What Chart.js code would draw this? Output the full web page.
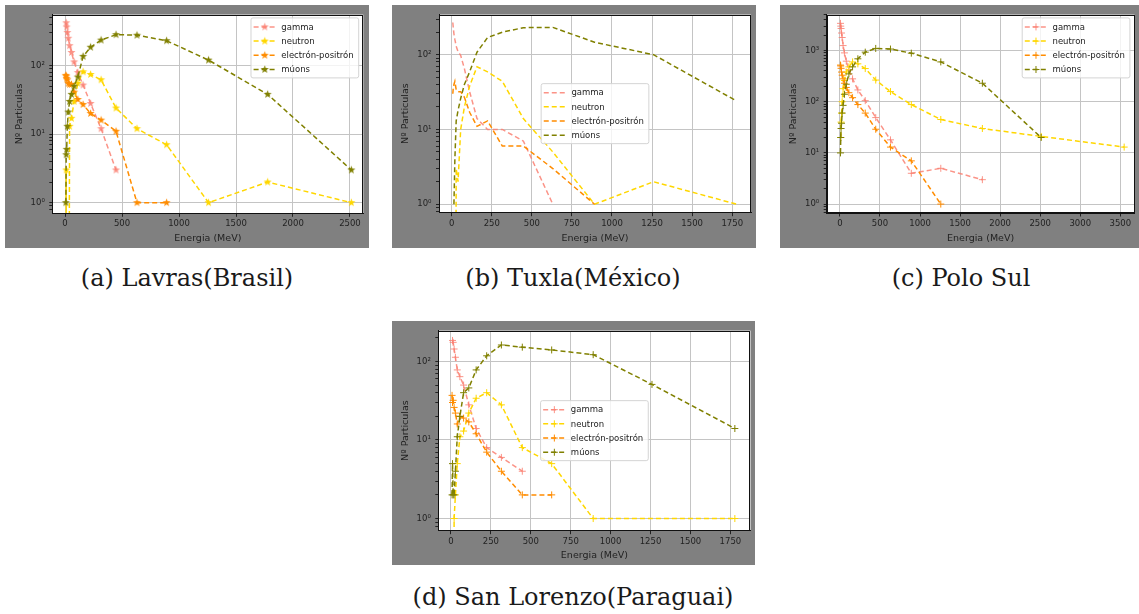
<!DOCTYPE html>
<html>
<head>
<meta charset="utf-8">
<script src="https://cdn.jsdelivr.net/npm/chart.js@4.4.1/dist/chart.umd.min.js"></script>
<style>
  body { margin: 0; background: #fff; width: 1139px; height: 614px; position: relative; overflow: hidden; }
  .panel { position: absolute; background: #808080; }
  .panel canvas { display: block; }
  .cap { position: absolute; font-family: "DejaVu Serif", serif; font-size: 24px; line-height: 24px; color: #1a1a1a; transform: translateX(-50%); white-space: nowrap; }
</style>
</head>
<body>
<div class="panel" style="left:5px;top:5px"><canvas id="chartA" width="364" height="243"></canvas></div>
<div class="panel" style="left:392px;top:5px"><canvas id="chartB" width="364" height="243"></canvas></div>
<div class="panel" style="left:780px;top:5px"><canvas id="chartC" width="359" height="243"></canvas></div>
<div class="panel" style="left:392px;top:321px"><canvas id="chartD" width="363" height="244"></canvas></div>

<div class="cap" style="left:187px;top:266px">(a) Lavras(Brasil)</div>
<div class="cap" style="left:573px;top:266px">(b) Tuxla(México)</div>
<div class="cap" style="left:961px;top:266px">(c) Polo Sul</div>
<div class="cap" style="left:573px;top:585px">(d) San Lorenzo(Paraguai)</div>

<script>
// energy bins (MeV), shared by every panel
const energias = [7.1, 10, 14.1, 20, 28.2, 39.8, 56.2, 79.4, 112, 158, 224, 316, 447, 631, 891, 1259, 1778, 2512, 3548];
const etiquetas = ['gamma', 'neutron', 'electrón-positrón', 'múons'];

// (a) Lavras - null = no point in that bin
const gammaA    = [null, 420, 365, 303, 250, 195, 155, 113, 79, 52, 28, 12, 3];
const neutronA  = [0, 3, 0, 0, 0, 13, 17, 30, 55, 81, 74, 62, 24, 12, 7, 1, 2, 1];
const electronA = [72, 70, 65, 62, 55, 53, 53, 41, 32, 27, 20, 16, 11, 1, 1];
const muonsA    = [1, 5, 6, 13, 21, 30, 38, 50, 68, 136, 185, 235, 282, 277, 230, 120, 38, 3];

// (b) Tuxla
const gammaB    = [270, 230, 190, 160, 130, 110, 98, 65, 32, 14, 10, 10, 7, 1];
const neutronB  = [0, 0, 0, 0, 3, 2, 10, 20, 38, 69, 59, 44, 14, 5, 1, 2, 1];
const electronB = [30, 36, 40, 44, 34, 32, 32, 27, 17, 11, 13, 6, 6, 3, 1];
const muonsB    = [null, null, 1, 4, 13, 18, 26, 40, 59, 108, 170, 200, 230, 232, 147, 100, 24];

// (c) Polo Sul
const gammaC    = [3400, 3000, 2700, 2200, 1800, 1250, 900, 620, 420, 280, 170, 105, 49, 18, 4, 5, 3];
const neutronC  = [null, 20, 40, 60, 100, 180, 260, 380, 480, 600, 550, 445, 265, 158, 88, 45, 30, 21, 13];
const electronC = [520, 500, 450, 380, 330, 280, 230, 190, 150, 120, 88, 60, 29, 13, 7, 1];
const muonsC    = [10, 20, 30, 38, 60, 85, 140, 220, 350, 480, 690, 930, 1100, 1070, 890, 600, 230, 20];

// (d) San Lorenzo
const gammaD    = [null, 185, 175, 144, 113, 78, 64, 50, 28, 14, 8, 6, 4];
const neutronD  = [0, 0, 0, 1, 2, 5, 11, 13, 22, 34, 40, 28, 8, 5, 1, null, 1];
const electronD = [37, 30, 32, 26, 22, 16, 20, 19, 17, 12, 7, 4, 2, 2];
const muonsD    = [2, 5, 2, 2, 4, 11, 20, 40, 46, 78, 118, 162, 152, 140, 122, 51, 14];

// axis ticks
const xTicksA = [0, 500, 1000, 1500, 2000, 2500];
const xTicksB = [0, 250, 500, 750, 1000, 1250, 1500, 1750];
const xTicksC = [0, 500, 1000, 1500, 2000, 2500, 3000, 3500];
const yMayores = [1, 10, 100, 1000];
const yEtiquetas = ['10⁰', '10¹', '10²', '10³'];

const colores = ['rgba(250,128,114,0.85)', '#ffd700', '#ff8c00', '#808000'];
const txt = '#222';

// filled 5 point star like matplotlib '*'
function estrella(color) {
  const c = document.createElement('canvas');
  c.width = 11; c.height = 11;
  const g = c.getContext('2d');
  g.beginPath();
  for (let k = 0; k < 10; k++) {
    const r = k % 2 ? 1.7 : 4.3;
    const ang = -Math.PI / 2 + k * Math.PI / 5;
    g.lineTo(5.5 + r * Math.cos(ang), 5.5 + r * Math.sin(ang));
  }
  g.closePath();
  g.fillStyle = color;
  g.fill();
  return c;
}
const estrellas = colores.map(estrella);

function puntos(arr) {
  const out = [];
  arr.forEach((v, i) => {
    if (v === null || v === undefined) return;
    // zero counts fall off the bottom of a log axis, as in matplotlib
    out.push({ x: energias[i], y: v > 0 ? v : 1e-6, v: v });
  });
  return out;
}

function ticksLog(min, max) {
  const t = [];
  for (let e = -1; e <= 4; e++) {
    for (let m = 1; m <= 9; m++) {
      const v = m * Math.pow(10, e);
      if (v >= min && v <= max) t.push({ value: v, major: m === 1 });
    }
  }
  return t;
}

// white plot area, black frame, matplotlib-like legend
const marco = {
  id: 'marco',
  beforeDraw(chart) {
    const { ctx, chartArea: a } = chart;
    ctx.save();
    ctx.fillStyle = '#fff';
    ctx.fillRect(a.left, a.top, a.width, a.height);
    ctx.restore();
  },
  afterDatasetsDraw(chart, args, opts) {
    const { ctx, chartArea: a } = chart;
    ctx.save();
    ctx.strokeStyle = '#111';
    ctx.lineWidth = 1;
    ctx.strokeRect(Math.round(a.left) + 0.5, Math.round(a.top) + 0.5, Math.round(a.width) - 1, Math.round(a.height) - 1);

    ctx.font = '8.5px "DejaVu Sans"';
    const tw = Math.max(...etiquetas.map(l => ctx.measureText(l).width));
    const w = 30.3 + tw + 5, h = 60;
    let x0, y0;
    if (opts.loc === 'upper right') {
      x0 = a.right - 4.6 - w; y0 = a.top + 3.3;
    } else {
      x0 = (a.left + a.right) / 2 - w / 2; y0 = (a.top + a.bottom) / 2 - h / 2;
    }
    ctx.beginPath();
    ctx.roundRect(x0, y0, w, h, 2);
    ctx.fillStyle = 'rgba(255,255,255,0.8)';
    ctx.fill();
    ctx.strokeStyle = '#d4d4d4';
    ctx.stroke();

    etiquetas.forEach((lab, i) => {
      const y = y0 + 9 + i * 14.2;
      ctx.strokeStyle = colores[i];
      ctx.lineWidth = 1.5;
      ctx.setLineDash([5, 3]);
      ctx.beginPath();
      ctx.moveTo(x0 + 2.6, y);
      ctx.lineTo(x0 + 25, y);
      ctx.stroke();
      ctx.setLineDash([]);
      const mx = x0 + 13.8;
      if (opts.marker === 'star') {
        ctx.drawImage(estrellas[i], mx - 5.5, y - 5.5);
      } else if (opts.marker === 'cross') {
        ctx.lineWidth = 1;
        ctx.beginPath();
        ctx.moveTo(mx - 3.5, y); ctx.lineTo(mx + 3.5, y);
        ctx.moveTo(mx, y - 3.5); ctx.lineTo(mx, y + 3.5);
        ctx.stroke();
      }
      ctx.fillStyle = txt;
      ctx.textBaseline = 'middle';
      ctx.fillText(lab, x0 + 30.3, y + 0.5);
    });
    ctx.restore();
  }
};

function grafico(id, series, cfg) {
  const datasets = series.map((arr, i) => ({
    label: etiquetas[i],
    data: puntos(arr),
    borderColor: colores[i],
    backgroundColor: colores[i],
    borderWidth: 1.5,
    borderDash: [5, 3],
    tension: 0,
    order: 3 - i,
    pointStyle: cfg.marker === 'star' ? estrellas[i] : 'cross',
    pointBorderColor: colores[i],
    pointBorderWidth: 1,
    pointRadius: c => (cfg.marker && c.raw && c.raw.v > 0) ? 3.5 : 0,
    pointHoverRadius: 0
  }));

  return new Chart(document.getElementById(id), {
    type: 'line',
    data: { datasets },
    options: {
      responsive: false,
      animation: false,
      events: [],
      layout: { padding: { top: cfg.top, right: cfg.right, bottom: 0, left: 0 } },
      plugins: {
        legend: { display: false },
        tooltip: { enabled: false },
        marco: { loc: cfg.loc, marker: cfg.marker }
      },
      scales: {
        x: {
          type: 'linear',
          min: cfg.xMin, max: cfg.xMax,
          afterBuildTicks: s => { s.ticks = cfg.xTicks.map(v => ({ value: v, major: true })); },
          afterFit: s => { s.height = cfg.xH; },
          ticks: { callback: v => String(v), color: txt, font: { family: 'DejaVu Sans', size: 8.5 }, padding: 2, maxRotation: 0, autoSkip: false },
          grid: { color: '#c4c4c4', tickColor: txt, tickLength: 3.5, lineWidth: 1 },
          border: { color: '#111' },
          title: { display: true, text: 'Energia (MeV)', color: txt, font: { family: 'DejaVu Sans', size: 9.5 }, padding: { top: 0, bottom: 4 } }
        },
        y: {
          type: 'logarithmic',
          min: cfg.yMin, max: cfg.yMax,
          afterBuildTicks: s => { s.ticks = ticksLog(cfg.yMin, cfg.yMax); },
          afterFit: s => { s.width = cfg.yW; },
          ticks: {
            callback: (v, i, t) => t[i].major ? yEtiquetas[yMayores.indexOf(Math.round(v))] : '',
            color: txt, font: { family: 'DejaVu Sans', size: 8.5 }, padding: 4.5, autoSkip: false
          },
          grid: {
            color: c => (c.tick && c.tick.major) ? '#c4c4c4' : 'rgba(0,0,0,0)',
            tickColor: txt, tickLength: 3, lineWidth: 1
          },
          border: { color: '#111' },
          title: { display: true, text: 'Nº Particulas', color: txt, font: { family: 'DejaVu Sans', size: 9.5 }, padding: { top: cfg.yW - 33 - 5.7, bottom: 0 } }
        }
      }
    },
    plugins: [marco]
  });
}

grafico('chartA', [gammaA, neutronA, electronA, muonsA], {
  xMin: -112, xMax: 2617, yMin: 0.743, yMax: 553, xTicks: xTicksA,
  top: 6.7, right: 5.7, yW: 47.3, xH: 34.7, loc: 'upper right', marker: 'star'
});
grafico('chartB', [gammaB, neutronB, electronB, muonsB], {
  xMin: -79, xMax: 1867, yMin: 0.77, yMax: 344, xTicks: xTicksB,
  top: 7.3, right: 5, yW: 47, xH: 35.3, loc: 'center', marker: null
});
grafico('chartC', [gammaC, neutronC, electronC, muonsC], {
  xMin: -165, xMax: 3677, yMin: 0.67, yMax: 5040, xTicks: xTicksC,
  top: 6.7, right: 2, yW: 46.7, xH: 35, loc: 'upper right', marker: 'cross'
});
grafico('chartD', [gammaD, neutronD, electronD, muonsD], {
  xMin: -79, xMax: 1876, yMin: 0.745, yMax: 247, xTicks: xTicksB,
  top: 4.3, right: 3.3, yW: 46.3, xH: 34.3, loc: 'center', marker: 'cross'
});
</script>
</body>
</html>
